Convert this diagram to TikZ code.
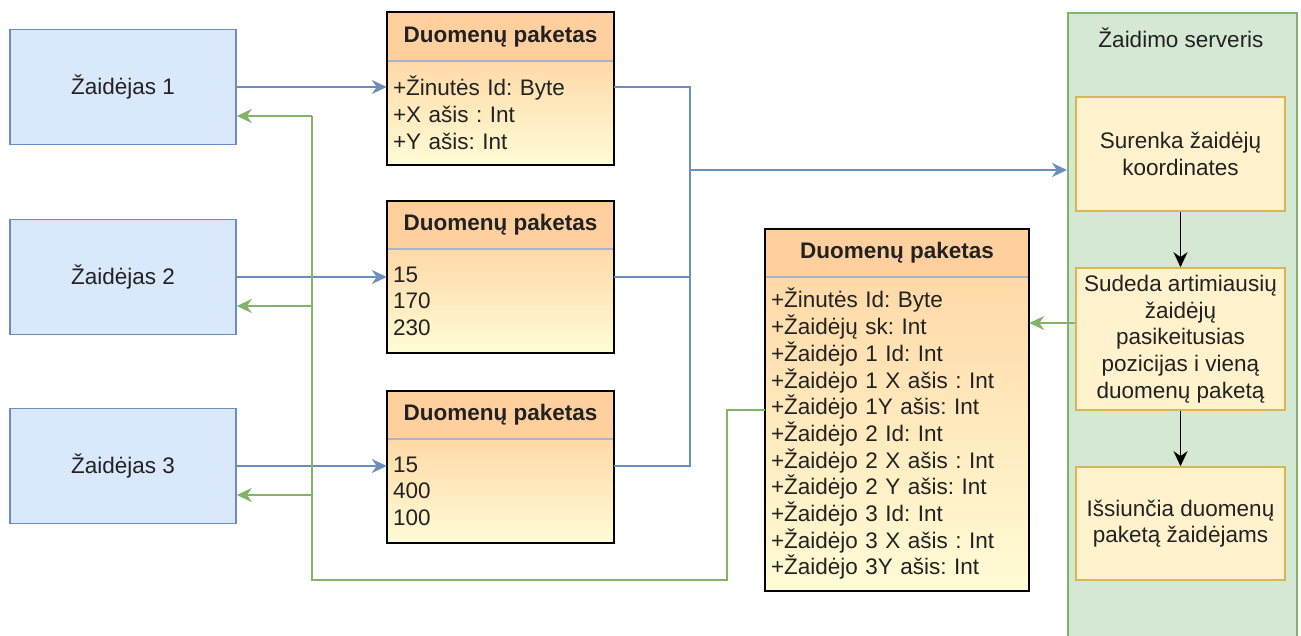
\documentclass[tikz,border=0pt]{standalone}
\usepackage{fontspec}
\setmainfont{Liberation Sans}
\usetikzlibrary{positioning,arrows.meta,backgrounds}
\definecolor{plfill}{HTML}{DAE8FC}
\definecolor{pldraw}{HTML}{6C8EBF}
\definecolor{srvfill}{HTML}{D5E8D4}
\definecolor{srvdraw}{HTML}{82B366}
\definecolor{stfill}{HTML}{FFF2CC}
\definecolor{stdraw}{HTML}{D6B656}
\definecolor{pkhead}{HTML}{FFCF9E}
\definecolor{pktop}{HTML}{FFD9A8}
\definecolor{pkbot}{HTML}{FFFCD6}
\definecolor{pksep}{HTML}{A9B5C6}
\definecolor{txt}{HTML}{222222}
\frenchspacing
\begin{document}
\begin{tikzpicture}[x=1pt,y=-1pt,
  every node/.style={font=\fontsize{22.5}{26.7}\selectfont, text=txt},
  player/.style={draw=pldraw, line width=1.6pt, fill=plfill, minimum width=226pt, minimum height=115pt},
  pkhd/.style={fill=pkhead, minimum width=227pt, minimum height=48pt, inner sep=0pt, font=\bfseries\fontsize{22.5}{26.7}\selectfont},
  pkbody/.style={top color=pktop, bottom color=pkbot, minimum height=103.5pt, text width=215pt, align=left, inner xsep=6pt, inner ysep=0pt},
  pkframe/.style={draw=black, line width=1.8pt},
  pksepl/.style={draw=pksep, line width=1.6pt},
  pkshadow/.style={fill=black!30},
  server/.style={draw=srvdraw, line width=1.6pt, fill=srvfill, minimum width=229pt, minimum height=632pt},
  stepbox/.style={draw=stdraw, line width=1.6pt, fill=stfill, minimum width=209pt, align=center},
  bline/.style={draw=pldraw, line width=1.9pt},
  barrow/.style={bline, -{Stealth[length=15pt,width=14pt]}},
  gline/.style={draw=srvdraw, line width=1.9pt},
  garrow/.style={gline, -{Stealth[length=15pt,width=14pt]}},
  karrow/.style={draw=black, line width=1.9pt, -{Stealth[length=15pt,width=14pt]}}]
\path[fill=white,use as bounding box] (0,0) rectangle (1301,635);

% players
\node[player] (pl1) at (123,87) {Žaidėjas 1};
\node[player] (pl2) at (123,277) {Žaidėjas 2};
\node[player] (pl3) at (123,466) {Žaidėjas 3};

% data packets
\node[pkhd] (h1) at (500.5,36.5) {Duomenų paketas};
\node[pkbody, below=0pt of h1] (p1) {+Žinutės Id: Byte\\+X ašis : Int\\+Y ašis: Int};
\node[pkhd] (h2) at (500.5,225) {Duomenų paketas};
\node[pkbody, below=0pt of h2] (p2) {15\\170\\230};
\node[pkhd] (h3) at (500.5,415) {Duomenų paketas};
\node[pkbody, below=0pt of h3] (p3) {15\\400\\100};
\node[pkhd, minimum width=264pt] (h4) at (897,253) {Duomenų paketas};
\node[pkbody, below=0pt of h4, text width=252pt, minimum height=313pt] (p4) {+Žinutės Id: Byte\\+Žaidėjų sk: Int\\+Žaidėjo 1 Id: Int\\+Žaidėjo 1 X ašis : Int\\+Žaidėjo 1Y ašis: Int\\+Žaidėjo 2 Id: Int\\+Žaidėjo 2 X ašis : Int\\+Žaidėjo 2 Y ašis: Int\\+Žaidėjo 3 Id: Int\\+Žaidėjo 3 X ašis : Int\\+Žaidėjo 3Y ašis: Int};
\foreach \i in {1,...,4} {
  \begin{scope}[on background layer]
    \fill[pkshadow] ([shift={(5,5)}]h\i.north west) rectangle ([shift={(5,5)}]p\i.south east);
  \end{scope}
  \draw[pksepl] (h\i.south west) -- (h\i.south east);
  \draw[pkframe] (h\i.north west) rectangle (p\i.south east);
}

% server
\node[server, anchor=north west] (srv) at (1067,12) {};
\node (srvt) at (1181,38) {Žaidimo serveris};
\node[stepbox, minimum height=114pt] (s1) at (1180.5,154) {Surenka žaidėjų\\koordinates};
\node[stepbox, minimum height=142pt] (s2) at (1180.5,339) {Sudeda artimiausių\\žaidėjų\\pasikeitusias\\pozicijas i vieną\\duomenų paketą};
\node[stepbox, minimum height=113pt] (s3) at (1180.5,523.5) {Išsiunčia duomenų\\paketą žaidėjams};
\draw[karrow] (s1) -- (s2);
\draw[karrow] (s2) -- (s3);

% players to packets to server
\coordinate (bbus) at (690,170);
\foreach \i in {1,2,3} \draw[barrow] (pl\i.east) -- (pl\i -| p\i.west);
\draw[bline] (pl1 -| p1.east) -- (pl1 -| bbus) -- (pl3 -| bbus) -- (pl3 -| p3.east);
\draw[bline] (pl2 -| p2.east) -- (pl2 -| bbus);
\draw[barrow] (bbus) -- (bbus -| srv.west);

% server back to players
\coordinate (gout) at ([yshift=16pt]s2.west);
\draw[garrow] (gout) -- (gout -| p4.east);
\coordinate (gbus) at (312,580);
\foreach \i in {1,2,3} {
  \coordinate (g\i) at ([yshift=-29pt]pl\i.east);
  \draw[garrow] (g\i -| gbus) -- (g\i);
}
\draw[gline] ([yshift=23.5pt]p4.west) -- ++(-38,0) |- (gbus) -- (g1 -| gbus);
\end{tikzpicture}
\end{document}
